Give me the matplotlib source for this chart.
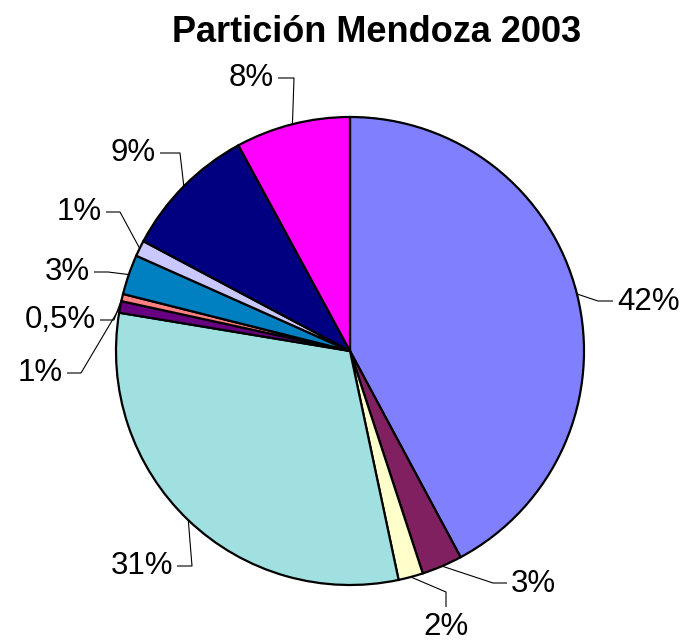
import numpy as np
import matplotlib
matplotlib.use("Agg")
import matplotlib.pyplot as plt

plt.rcParams['font.family'] = ['Liberation Sans', 'DejaVu Sans']

# Data (clockwise from 12 o'clock)
values = [42.1, 2.8, 1.7, 30.9, 0.8, 0.5, 2.75, 1.1, 9.3, 7.9]
labels = ["42%", "3%", "2%", "31%", "1%", "0,5%", "3%", "1%", "9%", "8%"]
colors = ["#8080FF", "#802060", "#FFFFCC", "#A0E0E0", "#660080",
          "#FF8080", "#0080C0", "#C8C8FF", "#000080", "#FF00FF"]
title = "Partición Mendoza 2003"

W, H = 680, 644
fig = plt.figure(figsize=(W / 100, H / 100), dpi=100)
ax = fig.add_axes([0, 0, 1, 1])

cx, cy, R = 350, H - 351, 234
wedges, _ = ax.pie(values, colors=colors, startangle=90, counterclock=False,
                   center=(cx, cy), radius=R, frame=True,
                   wedgeprops=dict(edgecolor='black', linewidth=1.6))
ax.set_xlim(0, W)
ax.set_ylim(0, H)
ax.set_aspect('equal')
ax.axis('off')

# leader layout: (elbow px, end px, ha, va)
layout = [
    ((598, 301), (613, 301), 'left', 'center'),
    ((493, 583), (507, 583), 'left', 'center'),
    ((446, 592), (446, 607), 'center', 'top'),
    ((192, 566), (177, 566), 'right', 'center'),
    ((81, 373), (67, 373), 'right', 'center'),
    ((114, 320), (100, 320), 'right', 'center'),
    ((108, 272), (94, 272), 'right', 'center'),
    ((120, 212), (106, 212), 'right', 'center'),
    ((180, 153), (160, 153), 'right', 'center'),
    ((294, 78), (278, 78), 'right', 'center'),
]

for w, lab, (elb, end, ha, va) in zip(wedges, labels, layout):
    mid = np.deg2rad((w.theta1 + w.theta2) / 2)
    ax_x = cx + R * np.cos(mid)
    ax_y = cy + R * np.sin(mid)
    xs = [ax_x, elb[0], end[0]]
    ys = [ax_y, H - elb[1], H - end[1]]
    ax.plot(xs, ys, color='black', lw=0.8, solid_capstyle='butt')
    if ha == 'left':
        tx, ty = end[0] + 4, H - end[1] - 1
    elif ha == 'right':
        tx, ty = end[0] - 4, H - end[1]
    else:
        tx, ty = end[0], H - end[1] - 5
    ax.text(tx, ty, lab, ha=ha, va=va, fontsize=22.5, color='black')

fig.text(377 / W, 1 - 32 / H, title, ha='center', va='center',
         fontsize=26, fontweight='bold')

fig.savefig("out.png", dpi=100)
